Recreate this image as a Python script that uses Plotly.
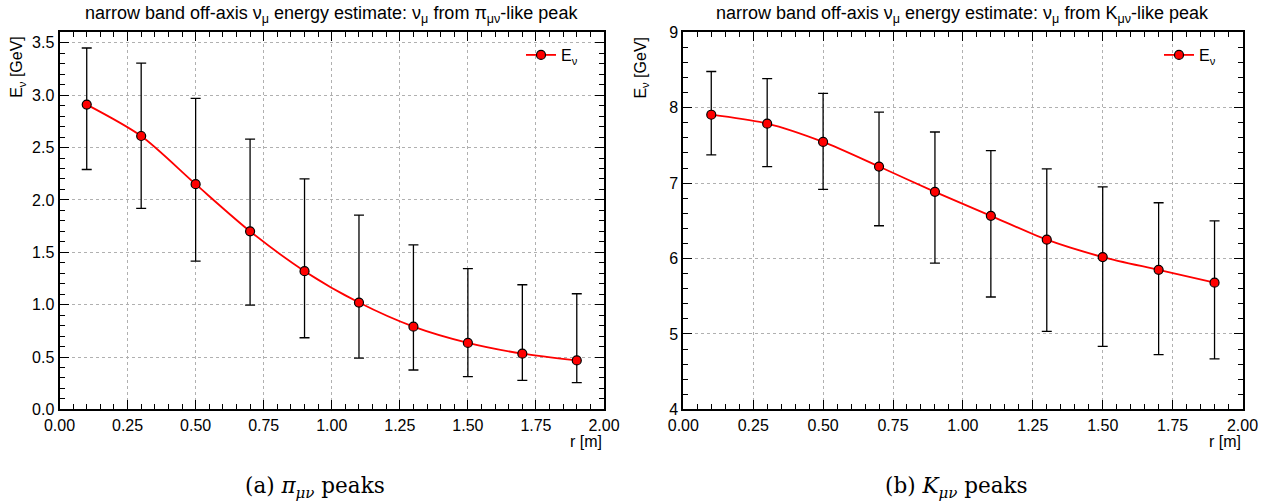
import plotly.graph_objects as go

r = [0.1, 0.3, 0.5, 0.7, 0.9, 1.1, 1.3, 1.5, 1.7, 1.9]

# pi_mu_nu-like peak
e_pi = [2.91, 2.61, 2.15, 1.70, 1.32, 1.02, 0.79, 0.635, 0.532, 0.468]
e_pi_hi = [3.45, 3.305, 2.97, 2.58, 2.20, 1.855, 1.57, 1.343, 1.19, 1.104]
e_pi_lo = [2.29, 1.92, 1.415, 0.996, 0.684, 0.49, 0.376, 0.312, 0.277, 0.255]

# K_mu_nu-like peak
e_k = [7.907, 7.789, 7.546, 7.22, 6.885, 6.567, 6.25, 6.02, 5.85, 5.68]
e_k_hi = [8.48, 8.385, 8.189, 7.942, 7.678, 7.43, 7.19, 6.95, 6.74, 6.50]
e_k_lo = [7.374, 7.22, 6.917, 6.435, 5.94, 5.49, 5.035, 4.835, 4.725, 4.67]

titles = [
    "narrow band off-axis ν<sub>μ</sub> energy estimate: ν<sub>μ</sub> from π<sub>μν</sub>-like peak",
    "narrow band off-axis ν<sub>μ</sub> energy estimate: ν<sub>μ</sub> from K<sub>μν</sub>-like peak",
]
captions = ["(a) <i>π</i><sub><i>μν</i></sub> peaks", "(b) <i>K</i><sub><i>μν</i></sub> peaks"]

W, H = 1269, 504
FONT = "Liberation Sans, Arial, sans-serif"
SERIF = "DejaVu Serif, Liberation Serif, serif"

xdom = [[59.5 / W, 604 / W], [683.3 / W, 1242.5 / W]]
ydom = [1 - 409.4 / H, 1 - 32.3 / H]

fig = go.Figure()

series = [(e_pi, e_pi_hi, e_pi_lo), (e_k, e_k_hi, e_k_lo)]
for i, (y, hi, lo) in enumerate(series):
    sfx = "" if i == 0 else "2"
    fig.add_trace(go.Scatter(
        x=r, y=y,
        mode="lines+markers",
        name="E<sub>ν</sub>",
        line=dict(color="#ff0000", width=1.8, shape="spline", smoothing=0.8),
        marker=dict(color="#ff0000", size=9, line=dict(color="black", width=1.2)),
        error_y=dict(type="data", symmetric=False,
                     array=[h - v for h, v in zip(hi, y)],
                     arrayminus=[v - l for v, l in zip(y, lo)],
                     color="black", thickness=1.3, width=5),
        xaxis="x" + sfx, yaxis="y" + sfx,
        showlegend=True,
        legend="legend" if i == 0 else "legend2",
    ))

axis_common = dict(
    showline=True, linecolor="black", linewidth=2, mirror="ticks",
    ticks="inside", ticklen=9, tickwidth=1.2, tickcolor="black",
    showgrid=True, gridcolor="#b0b0b0", griddash="dot", gridwidth=1,
    zeroline=False, automargin=False,
    tickfont=dict(family=FONT, size=16, color="black"),
)

xticks = [0, 0.25, 0.5, 0.75, 1.0, 1.25, 1.5, 1.75, 2.0]
xtext = ["0.00", "0.25", "0.50", "0.75", "1.00", "1.25", "1.50", "1.75", "2.00"]

fig.update_layout(
    width=W, height=H,
    margin=dict(l=0, r=0, t=0, b=0, autoexpand=False),
    paper_bgcolor="white", plot_bgcolor="white",
    font=dict(family=FONT, color="black"),
    xaxis=dict(domain=xdom[0], anchor="y", range=[0, 2], tickmode="array",
               tickvals=xticks, ticktext=xtext,
               minor=dict(ticks="inside", ticklen=5, tickcolor="black", dtick=0.05, showgrid=False),
               **axis_common),
    yaxis=dict(domain=ydom, anchor="x", range=[0, 3.6], tickmode="array",
               tickvals=[0, 0.5, 1.0, 1.5, 2.0, 2.5, 3.0, 3.5],
               ticktext=["0.0", "0.5", "1.0", "1.5", "2.0", "2.5", "3.0", "3.5"],
               minor=dict(ticks="inside", ticklen=5, tickcolor="black", dtick=0.1, showgrid=False),
               **axis_common),
    xaxis2=dict(domain=xdom[1], anchor="y2", range=[0, 2], tickmode="array",
                tickvals=xticks, ticktext=xtext,
                minor=dict(ticks="inside", ticklen=5, tickcolor="black", dtick=0.05, showgrid=False),
                **axis_common),
    yaxis2=dict(domain=ydom, anchor="x2", range=[4, 9], tickmode="array",
                tickvals=[4, 5, 6, 7, 8, 9],
                minor=dict(ticks="inside", ticklen=5, tickcolor="black", dtick=0.2, showgrid=False),
                **axis_common),
    legend=dict(x=521 / W, y=1 - 55 / H, xanchor="left", yanchor="middle",
                bgcolor="rgba(0,0,0,0)", font=dict(family=FONT, size=16)),
    legend2=dict(x=1159 / W, y=1 - 55 / H, xanchor="left", yanchor="middle",
                 bgcolor="rgba(0,0,0,0)", font=dict(family=FONT, size=16)),
)

ann = []
for i in range(2):
    cx = (xdom[i][0] + xdom[i][1]) / 2
    ann.append(dict(text=titles[i], x=cx, y=1 - 14 / H, xref="paper", yref="paper",
                    xanchor="center", yanchor="middle", showarrow=False,
                    font=dict(family=FONT, size=18, color="black")))
    ann.append(dict(text="E<sub>ν</sub> [GeV]", x=xdom[i][0] - 42 / W, y=ydom[1] - 2 / H,
                    xref="paper", yref="paper", xanchor="center", yanchor="top",
                    textangle=-90, showarrow=False,
                    font=dict(family=FONT, size=16, color="black")))
    ann.append(dict(text="r [m]", x=xdom[i][1], y=1 - 441 / H, xref="paper", yref="paper",
                    xanchor="right", yanchor="middle", showarrow=False,
                    font=dict(family=FONT, size=16, color="black")))
ann.append(dict(text=captions[0], x=315 / W, y=1 - 487 / H, xref="paper", yref="paper",
                xanchor="center", yanchor="middle", showarrow=False,
                font=dict(family=SERIF, size=21.5, color="black")))
ann.append(dict(text=captions[1], x=956 / W, y=1 - 487 / H, xref="paper", yref="paper",
                xanchor="center", yanchor="middle", showarrow=False,
                font=dict(family=SERIF, size=21.5, color="black")))
fig.update_layout(annotations=ann)

fig.write_html("out.html",
               config={"displayModeBar": False},
               post_script="document.body.style.margin='0';document.body.style.padding='0';")
